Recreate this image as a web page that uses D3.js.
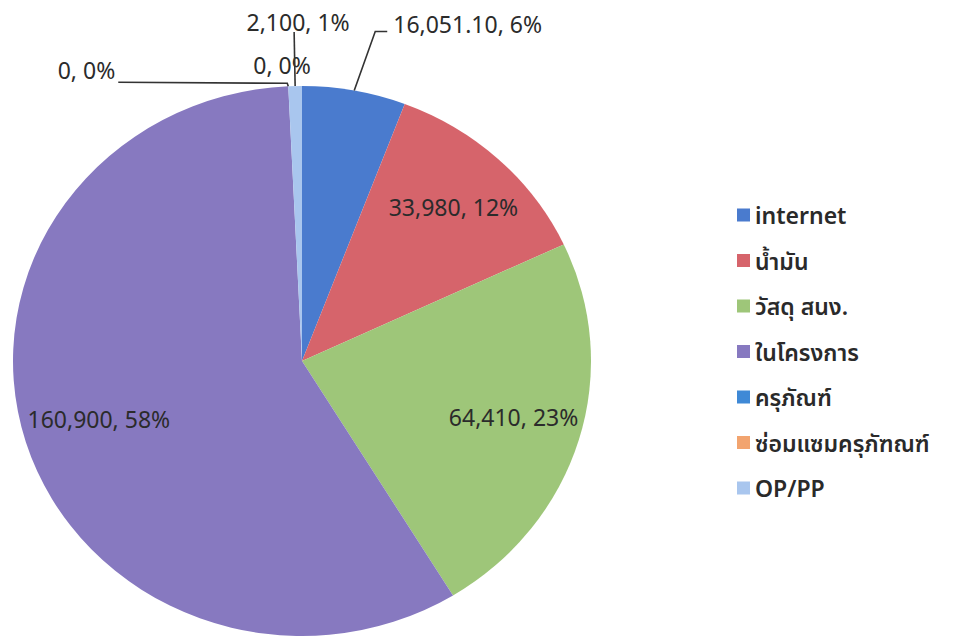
<!DOCTYPE html>
<html>
<head>
<meta charset="utf-8">
<script src="https://cdn.jsdelivr.net/npm/d3@7"></script>
<style>
  body { margin: 0; background: #fff; }
  svg { display: block; font-family: "Noto Sans", "Noto Sans Thai", "Open Sans", sans-serif; }
  .lbl { font-size: 23px; fill: #2b2b2b; }
  .leg { font-size: 23px; font-weight: 600; fill: #2a2a2a; }
  .lead { stroke: #333; stroke-width: 1.6; fill: none; }
</style>
</head>
<body>
<svg id="chart"></svg>
<script>
// data
const categories = ["internet", "น้ำมัน", "วัสดุ สนง.", "ในโครงการ", "ครุภัณฑ์", "ซ่อมแซมครุภัฑณฑ์", "OP/PP"];
const values = [16051.10, 33980, 64410, 160900, 0, 0, 2100];
const valueText = ["16,051.10", "33,980", "64,410", "160,900", "0", "0", "2,100"];
const sliceColors = ["#4a7bce", "#d6646b", "#9ec679", "#8779c0", "#3f89d6", "#f2a46f", "#a9c6ee"];

let w = 976, h = 640;
let cx = 302, cy = 361;
let ry = 275, rx = 289;          // scan is a little stretched sideways
let sx = rx / ry;

const svg = d3.select("#chart").attr("width", w).attr("height", h);

const total = d3.sum(values);
const pie = d3.pie().sort(null).value(d => d);
const arcs = pie(values);

const arc = d3.arc().innerRadius(0).outerRadius(ry);
const edgeArc = d3.arc().innerRadius(ry).outerRadius(ry);
const insideArc = d3.arc().innerRadius(ry * 0.75).outerRadius(ry * 0.75);

// map an arc point to page coords (with the sideways stretch)
const toPage = p => [cx + p[0] * sx, cy + p[1]];

svg.append("g")
  .attr("transform", `translate(${cx},${cy}) scale(${sx},1)`)
  .selectAll("path")
  .data(arcs)
  .enter()
  .append("path")
  .attr("d", arc)
  .attr("fill", (d, i) => sliceColors[i]);

// label text
const pct = v => Math.round(v / total * 100) + "%";
const labelText = i => valueText[i] + ", " + pct(values[i]);

// big slices: label inside
const inside = [1, 2, 3];
svg.selectAll("text.in")
  .data(inside)
  .enter()
  .append("text")
  .attr("class", "lbl")
  .attr("text-anchor", "middle")
  .attr("dominant-baseline", "central")
  .attr("x", i => toPage(insideArc.centroid(arcs[i]))[0] + 4)
  .attr("y", i => toPage(insideArc.centroid(arcs[i]))[1] - 3)
  .text(i => labelText(i));

// small slices: label outside with leader line
// offsets from the slice edge point: elbow and text anchor
const outside = [
  { i: 0, elbow: [21, -59], tx: [39, -59], anchor: "start" },
  { i: 4, elbow: [-1, -3], tx: [-173, -8], anchor: "end" },
  { i: 5, elbow: null, tx: [-35, -13], anchor: "start" },
  { i: 6, elbow: null, tx: [3, -56], anchor: "middle" }
];

outside.forEach(o => {
  let p = toPage(edgeArc.centroid(arcs[o.i]));
  let pts = [p];
  if (o.elbow) {
    pts.push([p[0] + o.elbow[0], p[1] + o.elbow[1]]);
    let endX = o.anchor === "start" ? p[0] + o.tx[0] - 6 : p[0] + o.tx[0] + 3;
    pts.push([endX, p[1] + o.tx[1] + (o.anchor === "end" ? 4 : 0)]);
  } else if (o.i === 6) {
    pts.push([p[0] - 1, p[1] - 54]);
  }
  if (pts.length > 1) {
    svg.append("path")
      .attr("class", "lead")
      .attr("d", d3.line()(pts));
  }
  svg.append("text")
    .attr("class", "lbl")
    .attr("text-anchor", o.anchor)
    .attr("dominant-baseline", "central")
    .attr("x", p[0] + o.tx[0])
    .attr("y", p[1] + o.tx[1] - 8)
    .text(labelText(o.i));
});

// legend
const legY = d3.scalePoint()
  .domain(d3.range(categories.length))
  .range([215, 488]);

const leg = svg.append("g")
  .selectAll("g")
  .data(categories)
  .enter()
  .append("g")
  .attr("transform", (d, i) => `translate(737, ${legY(i)})`);

leg.append("rect")
  .attr("x", 0)
  .attr("y", -6.5)
  .attr("width", 13)
  .attr("height", 13)
  .attr("fill", (d, i) => sliceColors[i]);

leg.append("text")
  .attr("class", "leg")
  .attr("x", 18)
  .attr("dominant-baseline", "central")
  .text(d => d);
</script>
</body>
</html>
